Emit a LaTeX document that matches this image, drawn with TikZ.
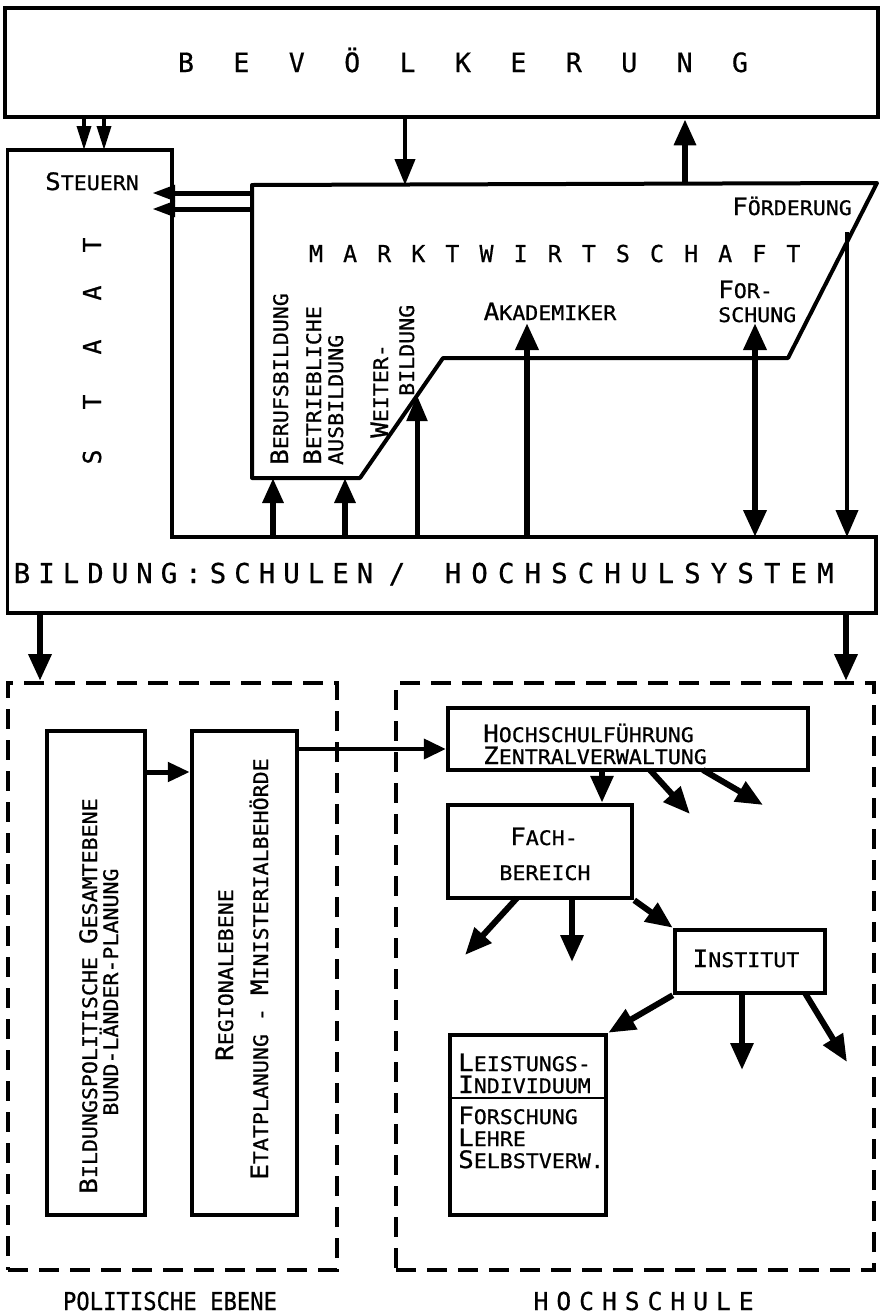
\documentclass[tikz,border=0pt]{standalone}
\usepackage{fontspec}
\usetikzlibrary{arrows.meta}
\newfontfamily\mono[FakeBold=0.6]{DejaVu Sans Mono}
\newfontfamily\monow[FakeStretch=1.08,FakeBold=0.8]{DejaVu Sans Mono}
\newfontfamily\monon[FakeStretch=0.9,FakeBold=0.6]{DejaVu Sans Mono}
\newcommand\bc[1]{{\fontsize{24}{24}\selectfont #1}}
\begin{document}
\begin{tikzpicture}[x=1pt,y=-1pt,
  box/.style={draw, line width=4.5pt, inner sep=0},
  ghost/.style={inner sep=0, outer sep=0},
  dbox/.style={draw, line width=4pt, inner sep=0, dash pattern=on 20pt off 11pt},
  txt/.style={inner sep=0, font=\monow\fontsize{20}{21}\selectfont},
  rtxt/.style={txt, rotate=90},
  headA/.style={inner sep=0, font=\mono\fontsize{26.6}{28}\selectfont},
  headB/.style={inner sep=0, font=\mono\fontsize{23.3}{25}\selectfont},
  headC/.style={inner sep=0, font=\mono\fontsize{27.4}{29}\selectfont},
  headD/.style={inner sep=0, font=\mono\fontsize{24.7}{26}\selectfont},
  arrBig/.style={line width=6.5pt, -{Triangle[length=27pt,width=22pt]}},
  arrMid/.style={line width=5pt, -{Triangle[length=26pt,width=20pt]}},
  arrThin/.style={line width=4pt, -{Triangle[length=26pt,width=20pt]}},
  arrSmall/.style={line width=3.5pt, -{Triangle[length=24pt,width=14pt]}},
  arrLeft/.style={line width=5pt, -{Triangle[length=23pt,width=15pt]}},
  arrLow/.style={line width=6pt, -{Triangle[length=27pt,width=22pt]}},
]
\useasboundingbox (0,0) rectangle (883,1315);

% ---------- top: Bevoelkerung ----------
\node[box, minimum width=873, minimum height=109] (bev) at (441.5,62.5) {};
\foreach \l [count=\i] in {B,E,V,Ö,L,K,E,R,U,N,G}
  \node[headA, anchor=base] (bevl\i) at ({186+(\i-1)*55.4},72) {\l};

% ---------- Staat + Bildung outline ----------
\node[ghost, minimum width=164.5, minimum height=387] (staat) at (89.75,343.5) {};
\node[ghost, minimum width=868.5, minimum height=76] (bildung) at (441.75,575) {};
\draw[line width=3.5pt, line join=miter]
  (staat.north west) -- (staat.north east) -- (staat.south east)
  -- (bildung.north east) -- (bildung.south east) -- (bildung.south west) -- cycle;

\node[txt, anchor=base] (steuern) at (92,190) {\bc{S}TEUERN};
\node[headD, rotate=90] (st1) at (92,457) {S};
\node[headD, rotate=90] (st2) at (92,402) {T};
\node[headD, rotate=90] (st3) at (92,347) {A};
\node[headD, rotate=90] (st4) at (92,293) {A};
\node[headD, rotate=90] (st5) at (92,245) {T};

\foreach \l [count=\i] in {B,I,L,D,U,N,G,:,S,C,H,U,L,E,N}
  \node[headC, anchor=base] (bl\i) at ({22+(\i-1)*24.5},583) {\l};
\node[headC, anchor=base] (blsl) at (397,583) {/};
\foreach \l [count=\i] in {H,O,C,H,S,C,H,U,L,S,Y,S,T,E,M}
  \node[headC, anchor=base] (bh\i) at ({453+(\i-1)*26.6},583) {\l};

% ---------- Marktwirtschaft ----------
\coordinate (mA) at (252,185);
\coordinate (mB) at (877,183);
\coordinate (mC) at (788,358);
\coordinate (mD) at (443,358);
\coordinate (mE) at (360,478);
\coordinate (mF) at (252,478);
\draw[line width=4pt, line join=round] (mA) -- (mB) -- (mC) -- (mD) -- (mE) -- (mF) -- cycle;
\foreach \l [count=\i] in {M,A,R,K,T,W,I,R,T,S,C,H,A,F,T}
  \node[headB, anchor=base] (mk\i) at ({316+(\i-1)*34.1},262) {\l};

\node[txt, anchor=base] (foerd) at (792,215) {\bc{F}ÖRDERUNG};
\node[txt, anchor=base] (akad) at (550,320) {\bc{A}KADEMIKER};
\node[txt, anchor=base west] (for1) at (718,298) {\bc{F}OR-};
\node[txt, anchor=base west] (for2) at (718,322) {SCHUNG};

\node[rtxt, anchor=base west] (beruf) at (288,465) {\bc{B}ERUFSBILDUNG};
\node[rtxt, anchor=base west] (betr) at (321,465) {\bc{B}ETRIEBLICHE};
\node[rtxt, anchor=base west] (ausb) at (343,465) {AUSBILDUNG};
\node[rtxt, anchor=base west] (weit) at (388,438) {\bc{W}EITER-};
\node[rtxt, anchor=base west] (weib) at (414,396) {BILDUNG};

% ---------- upper connectors ----------
\coordinate (x84) at (84,0);
\coordinate (x104) at (104,0);
\draw[arrSmall] (bev.south -| x84) -- (staat.north -| x84);
\draw[arrSmall] (bev.south -| x104) -- (staat.north -| x104);
\coordinate (m405) at (405,185);
\coordinate (m685) at (685,184);
\draw[arrThin] (bev.south -| m405) -- (m405);
\draw[line width=6pt, -{Triangle[length=26pt,width=21pt]}] (m685) -- (bev.south -| m685);

\coordinate (sA1) at (252,193); \coordinate (sB1) at (152,193);
\coordinate (sA2) at (252,209); \coordinate (sB2) at (152,209);
\draw[arrLeft] (sA1) -- (sB1);
\draw[arrLeft] (sA2) -- (sB2);

\coordinate (x273) at (273,0);
\coordinate (x345) at (345,0);
\coordinate (w417) at (417,395);
\coordinate (a527) at (527,323);
\coordinate (f755) at (755,323);
\coordinate (d847) at (847,232);
\draw[line width=6pt, -{Triangle[length=25pt,width=20pt]}] (bildung.north -| x273) -- (mF -| x273);
\draw[line width=6pt, -{Triangle[length=25pt,width=20pt]}] (bildung.north -| x345) -- (mF -| x345);
\draw[arrMid] (bildung.north -| w417) -- (w417);
\draw[arrBig] (bildung.north -| a527) -- (a527);
\draw[line width=6.5pt, {Triangle[length=27pt,width=22pt]}-{Triangle[length=27pt,width=22pt]}] (f755) -- (bildung.north -| f755);
\draw[line width=4pt, -{Triangle[length=27pt,width=22pt]}] (d847) -- (bildung.north -| d847);

% ---------- lower part ----------
\node[dbox, minimum width=329, minimum height=587] (dashL) at (172.5,976.5) {};
\node[dbox, minimum width=478, minimum height=587] (dashR) at (635,976.5) {};
\node[txt, font=\monon\fontsize{24.7}{26}\selectfont, anchor=base] (polit) at (170,1310) {POLITISCHE EBENE};
\foreach \l [count=\i] in {H,O,C,H,S,C,H,U,L,E}
  \node[headD, anchor=base] (hs\i) at ({541+(\i-1)*22.8},1310) {\l};

\coordinate (x40) at (40,0);
\coordinate (x846) at (846,0);
\draw[arrBig] (bildung.south -| x40) -- (dashL.north -| x40);
\draw[arrBig] (bildung.south -| x846) -- (dashR.north -| x846);

\node[box, minimum width=98, minimum height=484] (b1) at (96,973) {};
\node[box, minimum width=105, minimum height=484] (b2) at (244.5,973) {};
\node[rtxt, anchor=base] (b1t1) at (97,996) {\bc{B}ILDUNGSPOLITISCHE \bc{G}ESAMTEBENE};
\node[rtxt, anchor=base] (b1t2) at (118,992) {BUND-LÄNDER-PLANUNG};
\node[rtxt, anchor=base] (b2t1) at (233,975) {\bc{R}EGIONALEBENE};
\node[rtxt, anchor=base] (b2t2) at (268,969) {\bc{E}TATPLANUNG - \bc{M}INISTERIALBEHÖRDE};

\coordinate (y772) at (0,772);
\coordinate (y749) at (0,749);
\draw[line width=5pt, -{Triangle[length=22pt,width=19pt]}] (b1.east |- y772) -- (b2.west |- y772);

\node[box, minimum width=360, minimum height=62] (hf) at (628,739) {};
\node[txt, anchor=base west] (hft1) at (483,742) {\bc{H}OCHSCHULFÜHRUNG};
\node[txt, anchor=base west] (hft2) at (483,764) {\bc{Z}ENTRALVERWALTUNG};
\draw[line width=4pt, -{Triangle[length=22pt,width=20pt]}] (b2.east |- y749) -- (hf.west |- y749);

\node[box, minimum width=184, minimum height=93] (fb) at (540,851.5) {};
\node[txt, anchor=base] (fbt1) at (544,845) {\bc{F}ACH-};
\node[txt, anchor=base] (fbt2) at (545,880) {BEREICH};

\node[box, minimum width=150, minimum height=63] (inst) at (750,961.5) {};
\node[txt, anchor=base] (instt) at (746,967) {\bc{I}NSTITUT};

\node[box, minimum width=156, minimum height=180] (lei) at (528,1125) {};
\coordinate (y1098) at (0,1098);
\draw[line width=2.5pt] (lei.west |- y1098) -- (lei.east |- y1098);
\node[txt, anchor=base west] (le1) at (458,1071) {\bc{L}EISTUNGS-};
\node[txt, anchor=base west] (le2) at (458,1093) {\bc{I}NDIVIDUUM};
\node[txt, anchor=base west] (le3) at (458,1124) {\bc{F}ORSCHUNG};
\node[txt, anchor=base west] (le4) at (458,1146) {\bc{L}EHRE};
\node[txt, anchor=base west] (le5) at (458,1168) {\bc{S}ELBSTVERW.};

\coordinate (x602) at (602,0);
\draw[arrLow] (hf.south -| x602) -- (fb.north -| x602);
\coordinate (h2s) at (650,770); \coordinate (h2e) at (690,814);
\coordinate (h3s) at (703,770); \coordinate (h3e) at (763,805);
\draw[arrLow] (h2s) -- (h2e);
\draw[arrLow] (h3s) -- (h3e);

\coordinate (f1s) at (517,898); \coordinate (f1e) at (465,955);
\coordinate (f2s) at (572,898); \coordinate (f2e) at (572,962);
\draw[arrLow] (f1s) -- (f1e);
\draw[arrLow] (f2s) -- (f2e);
\draw[arrLow] (fb.south east) -- (inst.north west);

\coordinate (i2s) at (742,993); \coordinate (i2e) at (742,1070);
\coordinate (i3s) at (805,993); \coordinate (i3e) at (847,1062);
\draw[arrLow] (inst.south west) -- (lei.north east);
\draw[arrLow] (i2s) -- (i2e);
\draw[arrLow] (i3s) -- (i3e);
\end{tikzpicture}
\end{document}
